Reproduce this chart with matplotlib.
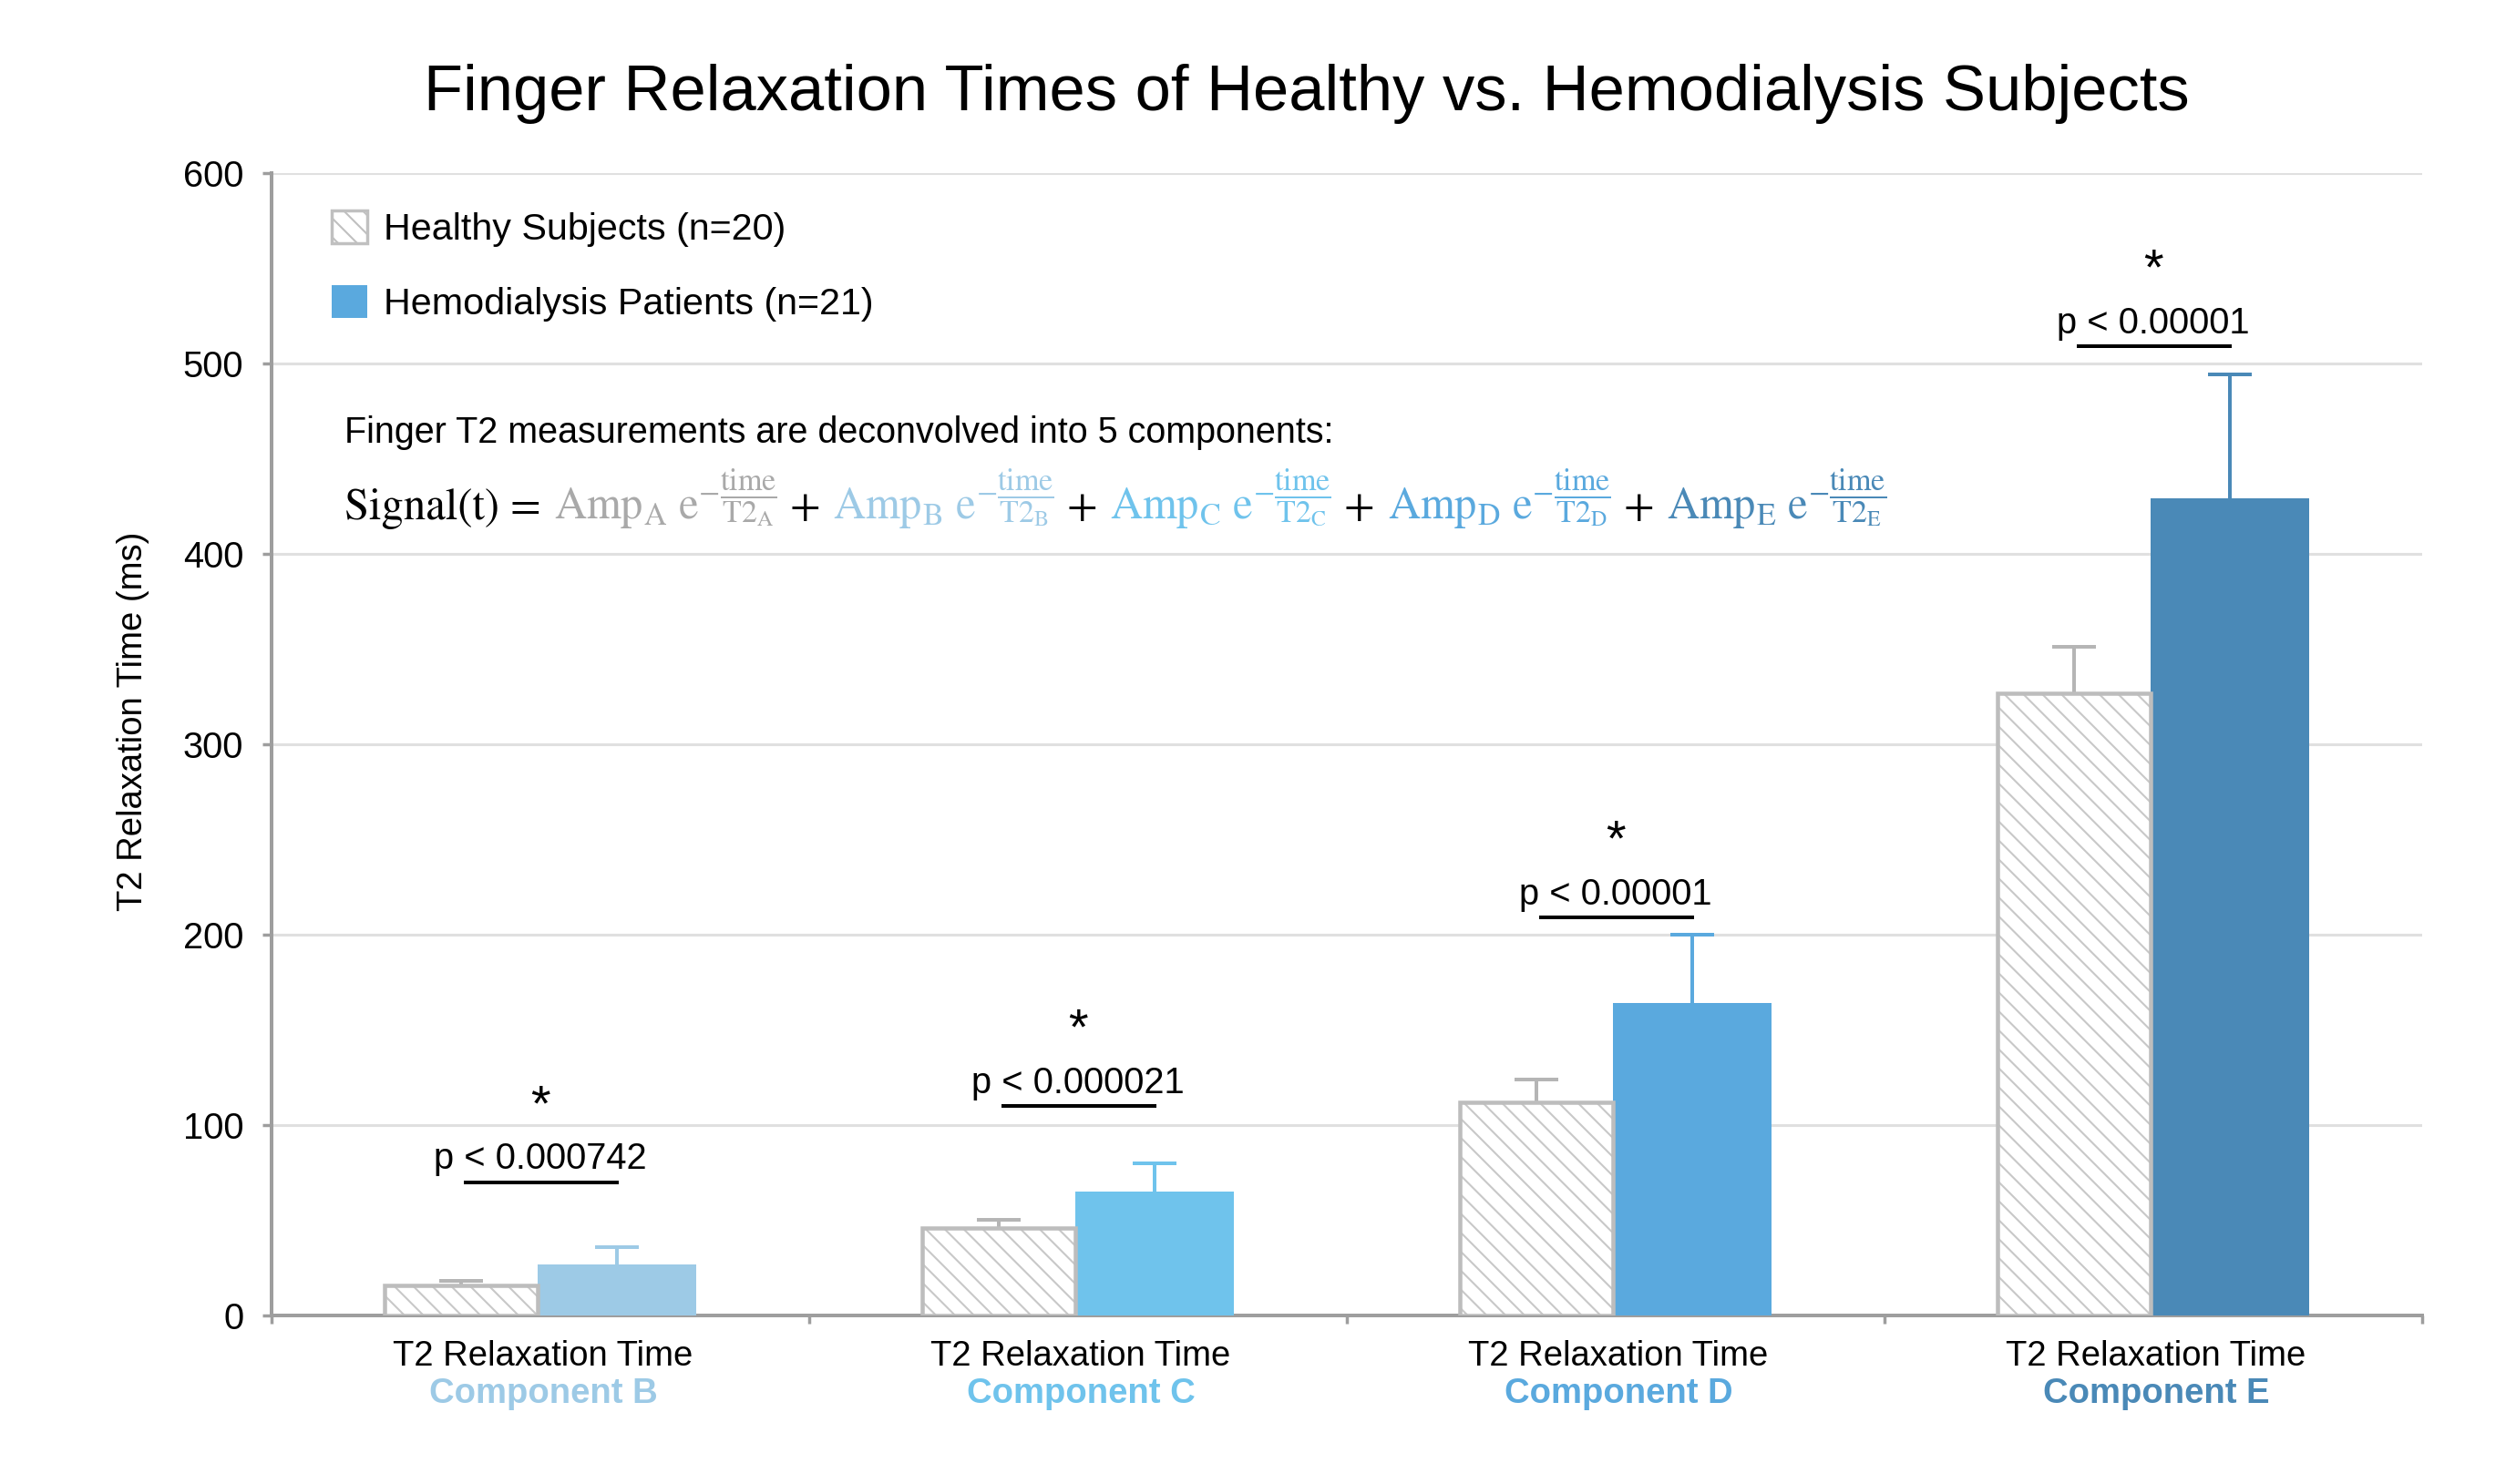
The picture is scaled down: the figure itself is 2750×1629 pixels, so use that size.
import matplotlib
matplotlib.use("Agg")
import matplotlib.pyplot as plt
import matplotlib.patches as mpatches
import numpy as np

plt.rcParams['font.family'] = ['Liberation Sans', 'DejaVu Sans']
plt.rcParams['mathtext.fontset'] = 'stix'
plt.rcParams['hatch.linewidth'] = 0.6

# data
components = ["B", "C", "D", "E"]
healthy_mean = [16, 46, 112, 327]
healthy_err = [2, 4, 12, 24]
hemo_mean = [27, 65, 164, 429]
hemo_err = [9, 15, 36, 65]
p_labels = ["p < 0.000742", "p < 0.000021", "p < 0.00001", "p < 0.00001"]
sig_y = [70, 110, 209, 509]
comp_colors = ["#9dcae6", "#6fc3ec", "#5aa9de", "#4a89b7"]
gray_a = "#a9a9a9"

fig = plt.figure(figsize=(11, 6.516), dpi=250)
ax = fig.add_axes([0.1084, 0.1136, 0.8582, 0.7698])

x = np.arange(len(components))

# healthy bars: hatch layer + outline layer
ax.bar(x - 0.1475, healthy_mean, 0.285, color="white", edgecolor="#c8c8c8",
       hatch="\\\\\\\\", linewidth=0, zorder=3)
ax.bar(x - 0.1475, healthy_mean, 0.285, fill=False, edgecolor="#bdbdbd",
       linewidth=1.3, zorder=4)
eb = ax.errorbar(x - 0.1475, healthy_mean, yerr=[[0] * 4, healthy_err], fmt="none",
                 ecolor="#b5b5b5", elinewidth=1.15, capsize=7, capthick=1.15, zorder=2)
eb[1][0].set_visible(False)

# hemodialysis bars
ax.bar(x + 0.1425, hemo_mean, 0.295, color=comp_colors, linewidth=0, zorder=3)
for i in range(len(components)):
    eb = ax.errorbar(x[i] + 0.1425, hemo_mean[i], yerr=[[0], [hemo_err[i]]], fmt="none",
                     ecolor=comp_colors[i], elinewidth=1.15, capsize=7, capthick=1.15, zorder=2)
    eb[1][0].set_visible(False)

# significance markers
for i in range(len(components)):
    ax.hlines(sig_y[i], x[i] - 0.143, x[i] + 0.146, color="black", lw=1.15, zorder=5)
    ax.text(x[i], sig_y[i] + 3, p_labels[i], ha="center", va="bottom", fontsize=11.5)
    ax.text(x[i], sig_y[i] + 27, "*", ha="center", va="bottom", fontsize=16)

# axes styling
ax.set_xlim(-0.5, 3.5)
ax.set_ylim(0, 600)
ax.set_yticks(range(0, 601, 100))
ax.set_xticks(np.arange(-0.5, 4, 1))
ax.set_xticklabels([])
ax.grid(axis="y", color="#e0e0e0", lw=0.9, zorder=0)
ax.set_axisbelow(True)
for s in ["top", "right"]:
    ax.spines[s].set_visible(False)
for s in ["left", "bottom"]:
    ax.spines[s].set_color("#9e9e9e")
    ax.spines[s].set_linewidth(1.15)
ax.tick_params(axis="y", length=2.9, width=1.0, color="#9e9e9e", labelsize=11.5, pad=6)
ax.tick_params(axis="x", length=2.6, width=1.0, color="#9e9e9e")
ax.set_ylabel("T2 Relaxation Time (ms)", fontsize=11)
ax.yaxis.set_label_coords(-0.057, 0.52)

for i, c in enumerate(components):
    ax.text(x[i] + 0.005, -0.0439, "T2 Relaxation Time", transform=ax.get_xaxis_transform(),
            ha="center", va="baseline", fontsize=11)
    ax.text(x[i] + 0.005, -0.0766, "Component " + c, transform=ax.get_xaxis_transform(),
            ha="center", va="baseline", fontsize=11, fontweight="bold", color=comp_colors[i])

fig.text(0.5215, 0.9257, "Finger Relaxation Times of Healthy vs. Hemodialysis Subjects",
         ha="center", va="baseline", fontsize=20.3)

# legend
h1 = mpatches.Patch(facecolor="white", edgecolor="#c0c0c0", hatch="\\\\\\\\", lw=1.0,
                    label="Healthy Subjects (n=20)")
h2 = mpatches.Patch(facecolor="#5aa9de", edgecolor="none", label="Hemodialysis Patients (n=21)")
ax.legend(handles=[h1, h2], loc="upper left", bbox_to_anchor=(0.012, 0.997), frameon=False,
          fontsize=11.9, handlelength=0.95, handleheight=0.95, handletextpad=0.45,
          labelspacing=1.02)

ax.text(0.034, 0.773, "Finger T2 measurements are deconvolved into 5 components:",
        transform=ax.transAxes, ha="left", va="center", fontsize=11.4)

# formula, piece by piece
pieces = [("Signal(t) = ", "black")]
for i, L in enumerate(["A", "B", "C", "D", "E"]):
    col = gray_a if i == 0 else comp_colors[i - 1]
    pieces.append((r"$\mathrm{Amp_{%s}\ e}^{-\dfrac{\mathrm{time}}{\mathrm{T2_{%s}}}}$" % (L, L), col))
    if L != "E":
        pieces.append((" + ", "black"))

fig.canvas.draw()
renderer = fig.canvas.get_renderer()
xpos = 0.034
for s, col in pieces:
    t = ax.text(xpos, 0.697, s, color=col, transform=ax.transAxes, ha="left",
                va="baseline", fontsize=14, family="STIXGeneral")
    bb = t.get_window_extent(renderer)
    xpos = ax.transAxes.inverted().transform((bb.x1, bb.y0))[0] + 0.0008

fig.savefig("out.png", dpi=250)
